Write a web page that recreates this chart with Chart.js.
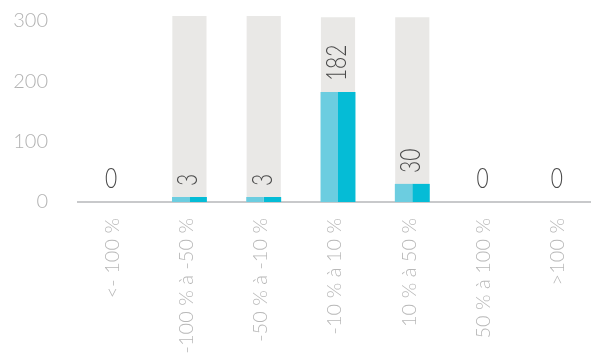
<!DOCTYPE html>
<html>
<head>
<meta charset="utf-8">
<script src="https://cdn.jsdelivr.net/npm/chart.js@4"></script>
<style>
    html, body { margin: 0; padding: 0; background: #fff; overflow: hidden; }
    #wrap { width: 598px; height: 354px; position: relative; }
</style>
</head>
<body>
<div id="wrap"><canvas id="distChart"></canvas></div>
<script>
// Données du graphique
const categories = ['<- 100 %', '-100 % à -50 %', '-50 % à -10 %', '-10 % à 10 %', '10 % à 50 %', '50 % à 100 %', '>100 %'];
const counts = [0, 3, 3, 182, 30, 0, 0];
const totals = [0, 308, 308, 306, 306, 0, 0];
const yTicks = [0, 100, 200, 300];

// Étiquettes de valeurs au-dessus des barres (chiffres étroits et fins)
const valueLabels = {
    id: 'valueLabels',
    afterDatasetsDraw(chart) {
        const { ctx, scales: { x, y } } = chart;
        const light = chart.getDatasetMeta(1);
        const dark = chart.getDatasetMeta(2);
        ctx.save();
        ctx.fillStyle = '#4a4a4a';
        ctx.font = '300 28px Lato, "Open Sans", sans-serif';
        counts.forEach((v, i) => {
            const cx = x.getPixelForValue(i);
            ctx.save();
            if (v === 0) {
                ctx.translate(cx - 4, y.getPixelForValue(0) - 14);
                ctx.scale(0.75, 1);
                ctx.textAlign = 'center';
                ctx.textBaseline = 'alphabetic';
            } else {
                const top = Math.min(light.data[i].y, dark.data[i].y);
                ctx.translate(cx - 1, top - 11);
                ctx.rotate(-Math.PI / 2);
                ctx.scale(0.75, 1);
                ctx.textAlign = 'left';
                ctx.textBaseline = 'middle';
            }
            ctx.fillText(String(v), 0, 0);
            ctx.restore();
        });
        ctx.restore();
    }
};

const ctx = document.getElementById('distChart').getContext('2d');
new Chart(ctx, {
    type: 'bar',
    data: {
        labels: categories,
        datasets: [
            {
                // fond gris, centré sur la catégorie, hors groupement
                data: totals,
                grouped: false,
                backgroundColor: '#e9e8e6',
                barPercentage: 0.46,
                categoryPercentage: 1,
                order: 2
            },
            {
                data: counts.map(v => v === 0 ? null : v),
                backgroundColor: '#6ccde0',
                barPercentage: 1,
                categoryPercentage: 0.47,
                minBarLength: 5,
                order: 1
            },
            {
                data: counts.map(v => v === 0 ? null : v),
                backgroundColor: '#05bcd6',
                barPercentage: 1,
                categoryPercentage: 0.47,
                minBarLength: 5,
                order: 1
            }
        ]
    },
    options: {
        responsive: true,
        maintainAspectRatio: false,
        animation: false,
        layout: { padding: { top: 16, left: 0, right: 0, bottom: 0 } },
        plugins: {
            legend: { display: false },
            tooltip: { enabled: false }
        },
        scales: {
            x: {
                grid: { display: false },
                border: { display: true, color: '#c8c9cb', width: 2 },
                ticks: {
                    autoSkip: false,
                    minRotation: 90,
                    maxRotation: 90,
                    padding: 8,
                    labelOffset: -3,
                    color: '#b8b8b8',
                    font: { family: 'Lato, "Open Sans", sans-serif', size: 20, weight: 300 }
                },
                afterFit: s => { s.height = 152; }
            },
            y: {
                min: 0,
                max: 308,
                grid: { display: false, drawTicks: false },
                border: { display: false },
                ticks: {
                    padding: 30,
                    color: '#b3b3b3',
                    font: { family: 'Lato, "Open Sans", sans-serif', size: 20, weight: 300 }
                },
                afterBuildTicks: s => { s.ticks = yTicks.map(v => ({ value: v })); },
                afterFit: s => {
                    s.width = 78;
                    s.paddingTop = 0;
                    s.paddingBottom = 0;
                }
            }
        }
    },
    plugins: [valueLabels]
});
</script>
</body>
</html>
